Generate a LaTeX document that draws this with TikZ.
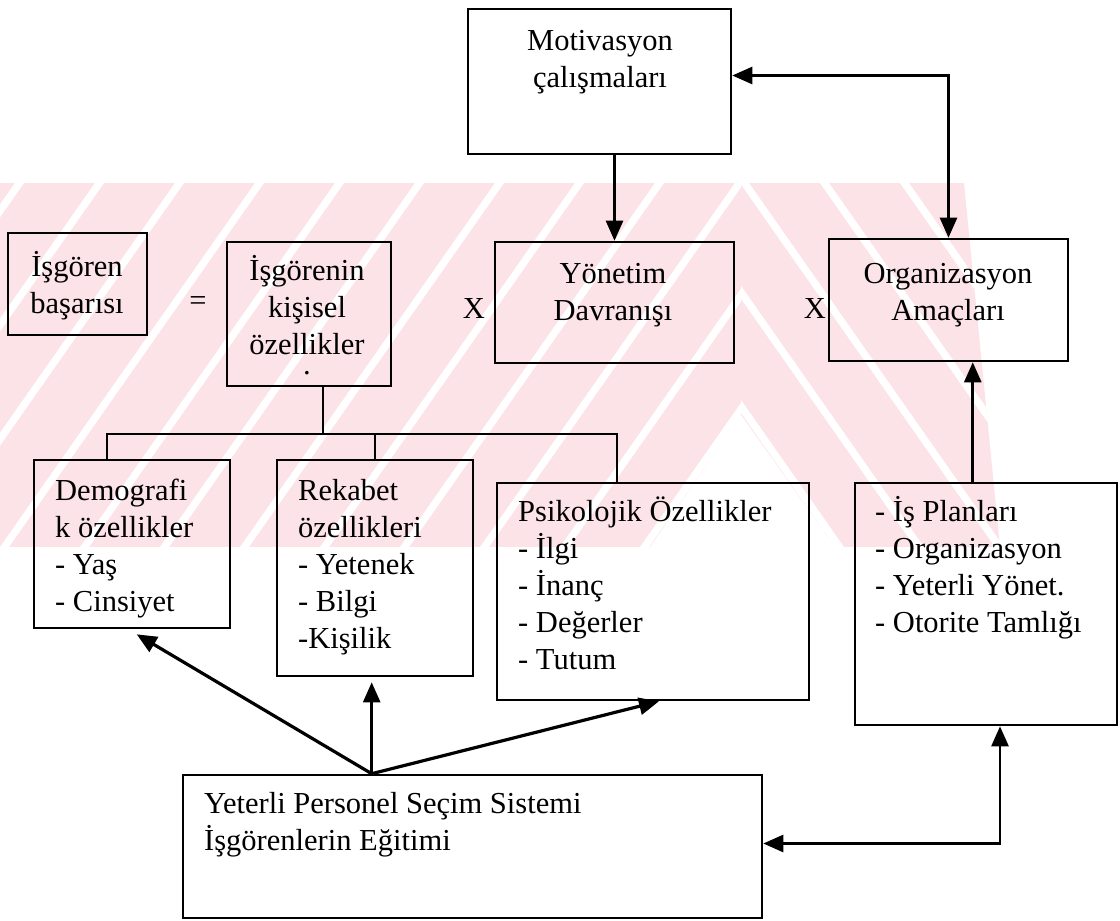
\documentclass[tikz,border=0pt]{standalone}
\usepackage{fontspec}
\setmainfont{Liberation Serif}
\usetikzlibrary{arrows.meta,calc}
\definecolor{wm}{RGB}{252,227,232}
\begin{document}
\begin{tikzpicture}[x=1pt,y=-1pt,
  box/.style={draw=black,line width=2.6pt,rectangle,inner sep=0pt},
  txt/.style={inner sep=0pt,font=\fontsize{30.5}{37}\selectfont,align=left,anchor=north west},
  ctxt/.style={inner sep=0pt,font=\fontsize{30.5}{37}\selectfont,align=center,anchor=north},
  sym/.style={inner sep=0pt,font=\fontsize{30.5}{37}\selectfont,anchor=base},
  link/.style={line width=2.6pt},
  heavy/.style={line width=3.2pt},
  tip/.style={-{Triangle[length=20pt,width=17pt]}},
  tips/.style={{Triangle[length=20pt,width=17pt]}-{Triangle[length=20pt,width=17pt]}}]
\useasboundingbox (0,0) rectangle (1120,921);

% faint striped background band
\begin{scope}
  \clip (0,183) -- (964,183) -- (1000,547) -- (0,547) -- cycle;
  \fill[wm] (0,183) rectangle (1120,547);
  \begin{scope}
    \clip (0,183) -- (741,183) -- (741,415) -- (650,547) -- (0,547) -- cycle;
    \foreach \s in {-240,-160,...,760}
      \fill[white] (\s,547) -- ++(9,0) -- ++(255,-364) -- ++(-9,0) -- cycle;
  \end{scope}
  \begin{scope}
    \clip (741,183) -- (1120,183) -- (1120,547) -- (835,547) -- (741,415) -- cycle;
    \foreach \s in {500,580,...,1100}
      \fill[white] (\s,183) -- ++(9,0) -- ++(255,364) -- ++(-9,0) -- cycle;
  \end{scope}
  \fill[white] (650,547) -- (741,415) -- (835,547) -- cycle;
\end{scope}

% boxes
\node[box,minimum width=263pt,minimum height=145pt] (mot) at (599.5,81.5) {};
\node[box,minimum width=239pt,minimum height=121pt] (yon) at (614.5,302.5) {};
\node[box,minimum width=239pt,minimum height=122pt] (org) at (948.5,300) {};
\node[box,minimum width=139pt,minimum height=102pt] (isg) at (77.5,284) {};
\node[box,minimum width=164pt,minimum height=144pt] (ikp) at (309,314) {};
\node[box,minimum width=196pt,minimum height=168pt] (dem) at (132,544) {};
\node[box,minimum width=196pt,minimum height=216pt] (rek) at (375,568) {};
\node[box,minimum width=312pt,minimum height=217pt] (psi) at (653,591.5) {};
\node[box,minimum width=262pt,minimum height=242pt] (isp) at (986,604) {};
\node[box,minimum width=579pt,minimum height=143pt] (yet) at (472.5,846.5) {};

% texts
\node[ctxt] (tmot) at (600,24.1) {\strut Motivasyon\\\strut çalışmaları};
\node[ctxt] (tyon) at (613,257.1) {\strut Yönetim\\\strut Davranışı};
\node[ctxt] (torg) at (948,257.1) {\strut Organizasyon\\\strut Amaçları};
\node[ctxt] (tisg) at (77,250.1) {\strut İşgören\\\strut başarısı};
\node[ctxt] (tikp) at (307,254.1) {\strut İşgörenin\\\strut kişisel\\\strut özellikler\\[-17pt] .};
\node[txt] (tdem) at (55,474.1) {\strut Demografi\\\strut k özellikler\\\strut - Yaş\\\strut - Cinsiyet};
\node[txt] (trek) at (298,474.1) {\strut Rekabet\\\strut özellikleri\\\strut - Yetenek\\\strut - Bilgi\\\strut -Kişilik};
\node[txt] (tpsi) at (518,495.1) {\strut Psikolojik Özellikler\\\strut - İlgi\\\strut - İnanç\\\strut - Değerler\\\strut - Tutum};
\node[txt] (tisp) at (875,495.1) {\strut - İş Planları\\\strut - Organizasyon\\\strut - Yeterli Yönet.\\\strut - Otorite Tamlığı};
\node[txt] (tyet) at (204,787.1) {\strut Yeterli Personel Seçim Sistemi\\\strut İşgörenlerin Eğitimi};

% operators
\node[inner sep=0pt,font=\fontsize{30.5}{37}\selectfont] (eq) at (198,304) {=};
\node[sym] (x1) at (474,318) {X};
\node[sym] (x2) at (815,318) {X};

% top connectors
\draw[link,tip] (yon.north |- mot.south) -- (yon.north);
\draw[link,tips] ([yshift=6pt]mot.east) -| (org.north);
\coordinate (ispTop) at ($(isp.north west)!0.45!(isp.north east)$);
\draw[link,tip] (ispTop) -- (ispTop |- org.south);
\draw[link,tips] ([yshift=3pt]yet.east) -| ([xshift=14pt]isp.south);

% tree under the personal traits box
\coordinate (stem) at ([xshift=14pt]ikp.south);
\coordinate (busL) at (107,434);
\coordinate (busR) at (617,434);
\draw[link] (stem) -- (stem |- busL);
\draw[link] (busL |- dem.north) -- (busL) -- (busR) -- (busR |- psi.north);
\draw[link] (rek.north) -- (rek.north |- busL);

% fan of arrows from the selection / training box
\coordinate (src) at ([xshift=190pt]yet.north west);
\draw[heavy,tip] (src) -- ($(dem.south west)+(104,5)$);
\draw[link,tip] (src) -- ($(src |- rek.south)+(0,5)$);
\draw[heavy,tip] (src) -- ($(psi.south)+(6,0)$);
\end{tikzpicture}
\end{document}
